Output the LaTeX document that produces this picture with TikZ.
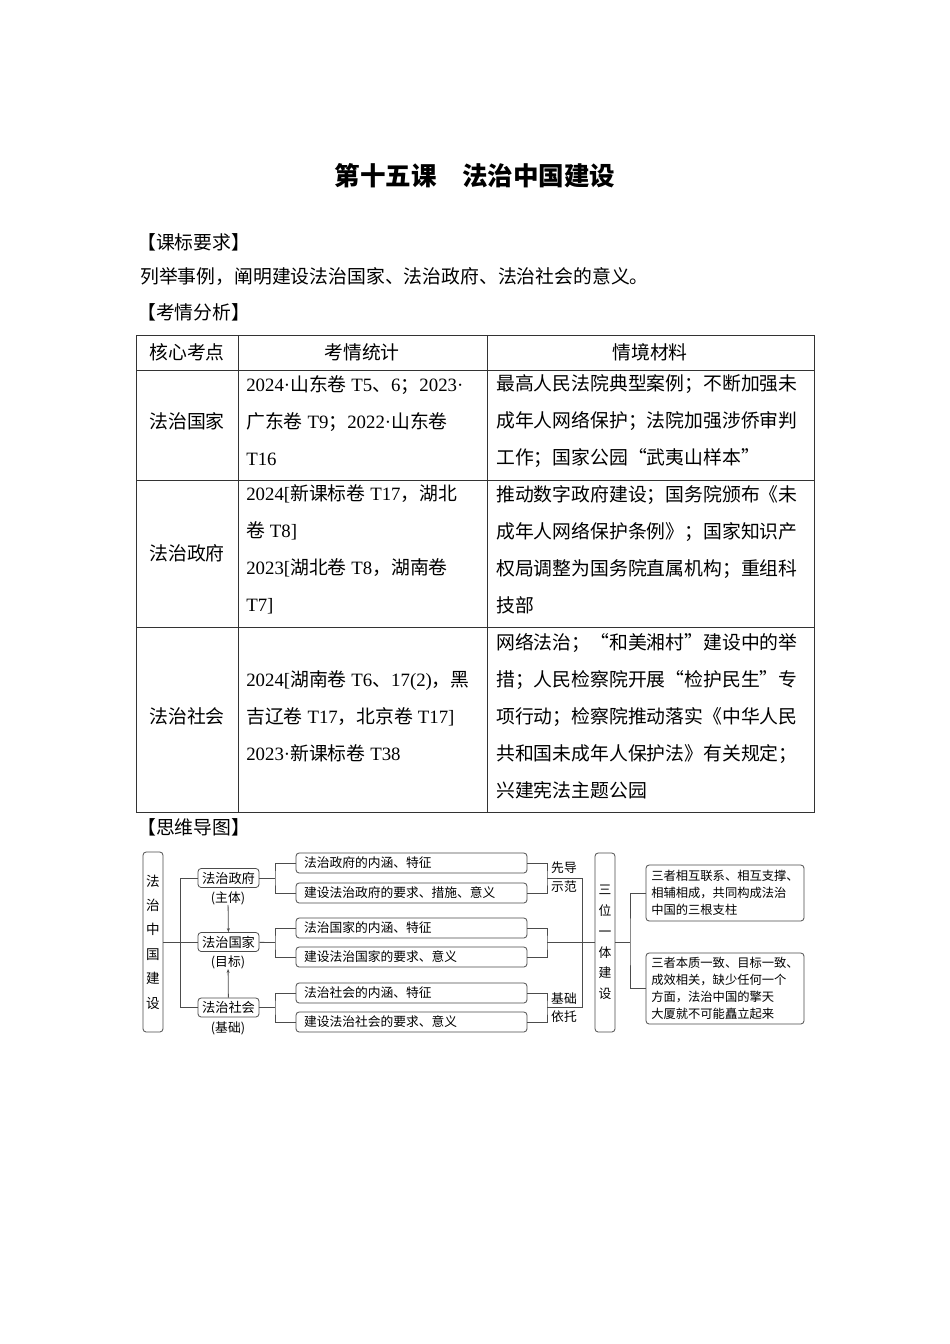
\documentclass[tikz,border=0pt]{standalone}
\usepackage{fontspec}
\setmainfont{Noto Sans CJK SC}
\newfontfamily\latfont{Liberation Serif}
\newcommand{\latn}[1]{{\latfont #1}}
\usetikzlibrary{arrows.meta}
\newdimen\pxu
\pxu=0.6266pt
\tikzset{mbox/.style = {draw=black!70, rounded corners=2pt, line width=0.5pt, inner sep=0pt}}
\tikzset{item/.style = {mbox, text width=215\pxu, inner xsep=8\pxu, minimum height=20\pxu, align=left, font=\fontsize{8}{10}\selectfont}}
\tikzset{tall/.style = {mbox, minimum width=20\pxu, align=center}}
\tikzset{head/.style = {mbox, minimum width=61\pxu, minimum height=19\pxu, font=\fontsize{8.3}{10}\selectfont}}
\tikzset{note/.style = {mbox, minimum width=158\pxu, align=left, font=\fontsize{7.7}{10.7}\selectfont}}
\tikzset{small/.style = {font=\fontsize{8}{10}\selectfont}}
\tikzset{link/.style = {draw=black!70, line width=0.5pt}}
\tikzset{rule/.style = {draw=black!80, line width=0.6pt}}
\tikzset{cell/.style = {anchor=west, align=left}}
\tikzset{up/.style = {link, -{Stealth[length=2.5pt, width=1.9pt]}}}

\begin{document}
\begin{tikzpicture}[x=\pxu, y=-\pxu, inner sep=0pt, font=\fontsize{11.8}{23.2}\selectfont]
  \useasboundingbox (0,0) rectangle (950,1344);
  \fill[white] (0,0) rectangle (950,1344);

  \node[font=\fontsize{16}{20}\selectfont\bfseries] (title) at (475,176) {第十五课\quad 法治中国建设};
  \node[anchor=west] (kb) at (137,242) {【课标要求】};
  \node[anchor=west] (lj) at (140,276) {列举事例，阐明建设法治国家、法治政府、法治社会的意义。};
  \node[anchor=west] (kq) at (137,312) {【考情分析】};
  \node[anchor=west] (dt) at (137,827) {【思维导图】};

  % table
  \draw[rule] (136,335) rectangle (814,812);
  \foreach \y in {370,480,627} \draw[rule] (136,\y) -- (814,\y);
  \foreach \x in {238,487} \draw[rule] (\x,335) -- (\x,812);

  \node (h1) at (187,352) {核心考点};
  \node (h2) at (362,352) {考情统计};
  \node (h3) at (650,352) {情境材料};
  \node (a1) at (187,421) {法治国家};
  \node (a2) at (187,553) {法治政府};
  \node (a3) at (187,716) {法治社会};

  \node[cell] (b1) at (246,421) {\latn{2024·}山东卷\latn{ T5}、\latn{6}；\latn{2023·}\\广东卷\latn{ T9}；\latn{2022·}山东卷\\\latn{T16}};
  \node[cell] (b2) at (246,549.5) {\latn{2024[}新课标卷\latn{ T17}，湖北\\卷\latn{ T8]}\\\latn{2023[}湖北卷\latn{ T8}，湖南卷\\\latn{T7]}};
  \node[cell] (b3) at (246,716) {\latn{2024[}湖南卷\latn{ T6}、\latn{17(2)}，黑\\吉辽卷\latn{ T17}，北京卷\latn{ T17]}\\\latn{2023·}新课标卷\latn{ T38}};

  \node[cell] (c1) at (496,421) {最高人民法院典型案例；不断加强未\\成年人网络保护；法院加强涉侨审判\\工作；国家公园“武夷山样本”};
  \node[cell] (c2) at (496,549.5) {推动数字政府建设；国务院颁布《未\\成年人网络保护条例》；国家知识产\\权局调整为国务院直属机构；重组科\\技部};
  \node[cell] (c3) at (496,716) {网络法治；“和美湘村”建设中的举\\措；人民检察院开展“检护民生”专\\项行动；检察院推动落实《中华人民\\共和国未成年人保护法》有关规定；\\兴建宪法主题公园};

  % mind map
  \node[tall, minimum height=180\pxu, font=\fontsize{8.5}{15.3}\selectfont] (zg) at (153,942) {法\\治\\中\\国\\建\\设};
  \node[head] (zf) at (228.5,878) {法治政府};
  \node[head] (gj) at (228.5,942) {法治国家};
  \node[head] (sh) at (228.5,1007.5) {法治社会};
  \node[small] (zt) at (228,898) {(主体)};
  \node[small] (mb) at (228,962) {(目标)};
  \node[small] (jb) at (228,1028) {(基础)};

  \draw[link] (zg) -- (gj);
  \draw[link] (zf.west) -- ++(-17,0) |- (sh.west);
  \draw[up] (zt) -- (gj);
  \draw[up] (sh) -- (mb);

  \node[item] (i1) at (411.5,863) {法治政府的内涵、特征};
  \node[item] (i2) at (411.5,893) {建设法治政府的要求、措施、意义};
  \node[item] (i3) at (411.5,928) {法治国家的内涵、特征};
  \node[item] (i4) at (411.5,957) {建设法治国家的要求、意义};
  \node[item] (i5) at (411.5,993) {法治社会的内涵、特征};
  \node[item] (i6) at (411.5,1022) {建设法治社会的要求、意义};

  \coordinate (l1) at (275,878);
  \coordinate (l2) at (275,942.5);
  \coordinate (l3) at (275,1007.5);
  \draw[link] (zf) -- (l1);
  \draw[link] (gj) -- (l2);
  \draw[link] (sh) -- (l3);
  \draw[link] (i1.west) -| (l1) |- (i2.west);
  \draw[link] (i3.west) -| (l2) |- (i4.west);
  \draw[link] (i5.west) -| (l3) |- (i6.west);

  \coordinate (p1) at (547,878);
  \coordinate (p2) at (547,942.5);
  \coordinate (p3) at (547,1007.5);
  \coordinate (k1) at (582,878);
  \coordinate (k3) at (582,1007.5);
  \draw[link] (i1.east) -| (p1) |- (i2.east);
  \draw[link] (i3.east) -| (p2) |- (i4.east);
  \draw[link] (i5.east) -| (p3) |- (i6.east);
  \draw[link] (p1) -- (k1) -- (k3) -- (p3);

  \node[small] (xd) at (564,868) {先导};
  \node[small] (sf) at (564,887) {示范};
  \node[small] (jc) at (564,999) {基础};
  \node[small] (yt) at (564,1017) {依托};

  \node[tall, minimum height=179\pxu, font=\fontsize{8}{13}\selectfont] (sy) at (605,942.5) {三\\位\\一\\体\\建\\设};
  \draw[link] (p2) -- (sy);

  \node[note, minimum height=56\pxu] (r1) at (725,893) {三者相互联系、相互支撑、\\相辅相成，共同构成法治\\中国的三根支柱};
  \node[note, minimum height=71\pxu] (r2) at (725,988.5) {三者本质一致、目标一致、\\成效相关，缺少任何一个\\方面，法治中国的擎天\\大厦就不可能矗立起来};
  \coordinate (q) at (630,942.5);
  \draw[link] (sy) -- (q);
  \draw[link] (r1.west) -| (q) |- (r2.west);
\end{tikzpicture}
\end{document}
